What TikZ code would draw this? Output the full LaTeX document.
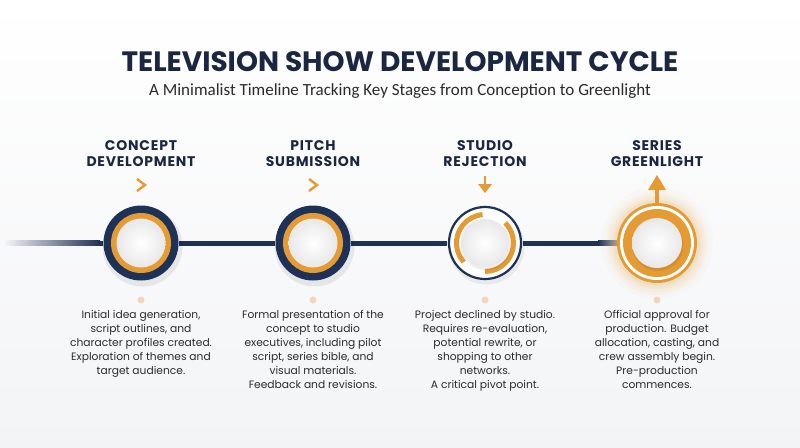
\documentclass[tikz,border=0pt]{standalone}
\usepackage{fontspec}
\setmainfont{Poppins}
\newfontfamily\subfont{Carlito}
\newfontfamily\headfont[LetterSpace=5.5]{Poppins}
\definecolor{navy}{HTML}{1E3157}
\definecolor{ink}{HTML}{1B2640}
\definecolor{gold}{HTML}{E59B33}
\definecolor{peach}{HTML}{F2D6BC}
\definecolor{bg}{HTML}{F3F4F6}
\definecolor{txt}{HTML}{2B2B2B}
\tikzset{
  header/.style={font=\headfont\bfseries\fontsize{14}{16}\selectfont, text=ink, align=center},
  desc/.style={font=\fontsize{10.7}{14}\selectfont, text=txt, align=center, anchor=north, inner sep=0pt},
  stagepos/.style={circle, minimum size=75pt, inner sep=0pt},
  dotmark/.style={circle, fill=peach, minimum size=7pt, inner sep=0pt},
  chev/.style={gold, line width=2.4pt},
  tl/.style={navy, line width=5pt},
  ball/.style={inner color=white, outer color=black!9}
}
\begin{document}
\begin{tikzpicture}[x=1pt,y=-1pt]
\useasboundingbox (0,0) rectangle (800,447);
\fill[top color=white, bottom color=bg] (0,0) rectangle (800,447);
% titles
\node[font=\bfseries\fontsize{28}{32}\selectfont, text=ink] (title) at (400,62) {TELEVISION SHOW DEVELOPMENT CYCLE};
\node[font=\subfont\fontsize{17}{20}\selectfont, text=txt] (subtitle) at (400,91) {A Minimalist Timeline Tracking Key Stages from Conception to Greenlight};
% stage positions
\node[stagepos] (s1) at (141,243) {};
\node[stagepos] (s2) at (313,243) {};
\node[stagepos] (s3) at (485,243) {};
\node[stagepos, minimum size=80pt] (s4) at (657,243) {};
% timeline
\shade[left color=bg, right color=navy] (5,240.5) rectangle (100,245.5);
\coordinate (lstart) at (99,243);
\coordinate (rfade) at (598,243);
\draw[tl] (lstart) -- (s1);
\draw[tl] (s1) -- (s2);
\draw[tl] (s2) -- (s3);
\draw[tl] (s3) -- (rfade);
\shade[left color=navy, right color=navy!40] (598,240.5) rectangle (619,245.5);
% stage 1
\fill[black, opacity=0.07] ([shift={(1.5,3.5)}]s1.center) circle (40);
\fill[navy] (s1) circle (37.5);
\fill[gold] (s1) circle (30);
\shade[ball] (s1) circle (24.5);
% stage 2
\fill[black, opacity=0.07] ([shift={(1.5,3.5)}]s2.center) circle (40);
\fill[navy] (s2) circle (37.5);
\fill[gold] (s2) circle (30);
\shade[ball] (s2) circle (24.5);
% stage 3
\fill[black, opacity=0.06] ([shift={(1.5,3.5)}]s3.center) circle (38);
\draw[navy, fill=white, line width=2.2pt] (s3) circle (36);
\draw[gold, line width=5pt] ([shift={(-95:28.5)}]s3.center) arc (-95:-222:28.5);
\draw[gold, line width=5pt] ([shift={(-45:28.5)}]s3.center) arc (-45:90:28.5);
\fill[black, opacity=0.06] ([shift={(1,2.5)}]s3.center) circle (25);
\shade[ball] (s3) circle (24);
% stage 4
\foreach \r/\o in {56/0.03,52/0.04,49/0.05,46/0.07,43/0.1}{
  \fill[gold, opacity=\o] (s4) circle (\r);
}
\fill[gold] (s4) circle (40);
\fill[white] (s4) circle (37);
\fill[gold] (s4) circle (34);
\fill[black, opacity=0.08] ([shift={(1,2.5)}]s4.center) circle (25.5);
\shade[ball] (s4) circle (25);
% headers
\node[header] (h1) at (141,154) {CONCEPT\\DEVELOPMENT};
\node[header] (h2) at (313,154) {PITCH\\SUBMISSION};
\node[header] (h3) at (485,154) {STUDIO\\REJECTION};
\node[header] (h4) at (657,154) {SERIES\\GREENLIGHT};
% markers
\draw[chev] (137,179) -- (145,185) -- (137,191);
\draw[chev] (309,179) -- (317,185) -- (309,191);
\draw[gold, line width=2.6pt] (485,176) -- (485,186);
\fill[gold] (478,184) -- (492,184) -- (485,193) -- cycle;
\draw[gold, line width=4pt] (657,205) -- (657,188);
\fill[gold] (648,190) -- (666,190) -- (657,175) -- cycle;
% dots
\node[dotmark] (d1) at (141,300) {};
\node[dotmark] (d2) at (313,300) {};
\node[dotmark] (d3) at (485,300) {};
\node[dotmark] (d4) at (657,300) {};
% descriptions
\node[desc] (t1) at (141,310) {Initial idea generation,\\script outlines, and\\character profiles created.\\Exploration of themes and\\target audience.};
\node[desc] (t2) at (313,310) {Formal presentation of the\\concept to studio\\executives, including pilot\\script, series bible, and\\visual materials.\\Feedback and revisions.};
\node[desc] (t3) at (485,310) {Project declined by studio.\\Requires re-evaluation,\\potential rewrite, or\\shopping to other\\networks.\\A critical pivot point.};
\node[desc] (t4) at (657,310) {Official approval for\\production. Budget\\allocation, casting, and\\crew assembly begin.\\Pre-production\\commences.};
\end{tikzpicture}
\end{document}
